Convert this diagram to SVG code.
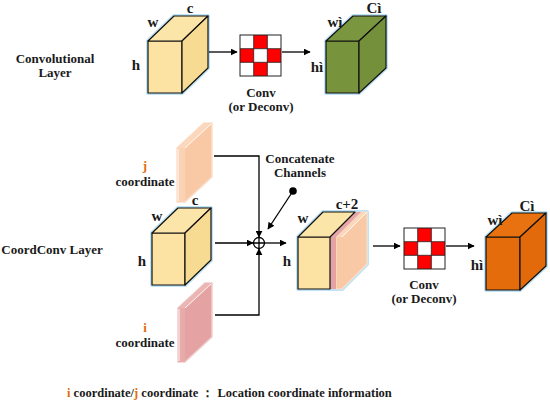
<svg xmlns="http://www.w3.org/2000/svg" width="550" height="407" viewBox="0 0 550 407">
<defs>
<marker id="ah" viewBox="0 0 10 10" refX="9" refY="5" markerWidth="7" markerHeight="7" markerUnits="userSpaceOnUse" orient="auto">
<path d="M0,0 L10,5 L0,10 z" fill="#000"/>
</marker>
<style>
text{font-family:"Liberation Serif","DejaVu Serif",serif;font-weight:bold;fill:#1a1a1a;text-anchor:middle}
.t{font-size:13px}
.d{font-size:15px}
.o{fill:#E36C0A}
.glow{fill:none;stroke:#BFE3F6;stroke-width:4;stroke-linejoin:round}
.edge{stroke:#111;stroke-width:1.2;stroke-linejoin:round}
.conn{fill:none;stroke:#000;stroke-width:1.3}
.red{fill:#FF0000}
.gl{fill:none;stroke:#222;stroke-width:0.8}
</style>
</defs>

<rect width="550" height="407" fill="#fff"/>

<g font-family="Liberation Serif, DejaVu Serif, serif">

<g id="label-conv-layer">
<text class="t" x="55" y="63">Convolutional</text>
<text class="t" x="55" y="77">Layer</text>
</g>

<g id="cube-input-top">
<path class="glow" d="M148,41 L174,16 L208,16 L208,68 L182,93 L148,93 Z"/>
<rect class="edge" x="148" y="41" width="34" height="52" fill="#FCE3A3"/>
<path class="edge" d="M148,41 L174,16 L208,16 L182,41 Z" fill="#FCE5A8"/>
<path class="edge" d="M182,41 L208,16 L208,68 L182,93 Z" fill="#F8DB92"/>
<text class="d" x="153" y="27">w</text>
<text class="d" x="190" y="13">c</text>
<text class="d" x="136" y="70">h</text>
</g>

<g id="kernel-top">
<rect x="240" y="35" width="41" height="41" fill="#fff"/>
<rect class="red" x="253.7" y="35" width="13.7" height="13.7"/>
<rect class="red" x="240" y="48.7" width="13.7" height="13.7"/>
<rect class="red" x="267.3" y="48.7" width="13.7" height="13.7"/>
<rect class="red" x="253.7" y="62.3" width="13.7" height="13.7"/>
<path class="gl" d="M253.7,35 V76 M267.3,35 V76 M240,48.7 H281 M240,62.3 H281"/>
<rect x="240" y="35" width="41" height="41" fill="none" stroke="#222" stroke-width="1"/>
<text class="t" x="261" y="97">Conv</text>
<text class="t" x="261" y="111">(or Deconv)</text>
</g>

<g id="cube-output-top">
<path class="glow" d="M326,41 L353,16 L386,16 L386,68 L359,93 L326,93 Z"/>
<rect class="edge" x="326" y="41" width="33" height="52" fill="#77933C"/>
<path class="edge" d="M326,41 L353,16 L386,16 L359,41 Z" fill="#7A963F"/>
<path class="edge" d="M359,41 L386,16 L386,68 L359,93 Z" fill="#74903A"/>
<text class="d" x="335" y="27">wì</text>
<text class="d" x="374" y="13">Cì</text>
<text class="d" x="317" y="72">hì</text>
</g>

<g id="slab-j">
<path d="M177,148 L204,123 L212,123 L212,177 L185,202 L177,202 Z" fill="#F9C9A6" stroke="#FBE0CC" stroke-width="1.5"/>
<path d="M177,148 L204,123 L212,123 L185,148 Z" fill="#FBD7BC"/>
<rect x="177" y="148" width="8" height="54" fill="#FAD2B4"/>
<path d="M178,149 V201 M185,148 L211,124" stroke="#fff" stroke-width="0.9" fill="none"/>
<text class="t o" x="145" y="170">j</text>
<text class="t" x="145" y="186">coordinate</text>
</g>

<g id="label-concat">
<text class="t" x="300" y="163">Concatenate</text>
<text class="t" x="300" y="177">Channels</text>
</g>

<g id="label-coordconv-layer">
<text class="t" x="52" y="254">CoordConv Layer</text>
</g>

<g id="cube-input-mid">
<path class="glow" d="M152,233 L178,208 L211,208 L211,260 L185,285 L152,285 Z"/>
<rect class="edge" x="152" y="233" width="33" height="52" fill="#FCE3A3"/>
<path class="edge" d="M152,233 L178,208 L211,208 L185,233 Z" fill="#FCE5A8"/>
<path class="edge" d="M185,233 L211,208 L211,260 L185,285 Z" fill="#F8DB92"/>
<text class="d" x="157" y="221">w</text>
<text class="d" x="195" y="205">c</text>
<text class="d" x="142" y="266">h</text>
</g>

<g id="slab-i">
<path d="M178,308 L205,283 L212,283 L212,337 L185,362 L178,362 Z" fill="#E4A3A2" stroke="#F1CFCF" stroke-width="1.5"/>
<path d="M178,308 L205,283 L212,283 L185,308 Z" fill="#EBB5B4"/>
<rect x="178" y="308" width="7" height="54" fill="#E7ABAA"/>
<path d="M179,309 V361 M185,308 L211,284" stroke="#fff" stroke-width="0.9" fill="none"/>
<text class="t o" x="145" y="332">i</text>
<text class="t" x="145" y="347">coordinate</text>
</g>

<g id="concat-op">
<circle cx="259" cy="243" r="5.5" fill="#fff" stroke="#000" stroke-width="1.3"/>
<path d="M253.5,243 H264.5 M259,237.5 V248.5" stroke="#000" stroke-width="1.3"/>
<circle cx="293" cy="191" r="3.8" fill="#000"/>
</g>

<g id="cube-concat">
<path class="glow" d="M298,237 L323,212 L367,212 L367,264 L342,289 L298,289 Z"/>
<path d="M336,237 L361,212 L367,212 L367,264 L342,289 L336,289 Z" fill="#F9C9A6" stroke="#FBE0CC" stroke-width="1.2"/>
<path d="M336,237 L361,212 L367,212 L342,237 Z" fill="#FBD7BC"/>
<path d="M342,237 L367,212" stroke="#fff" stroke-width="0.9"/>
<path d="M330,237 L355,212 L361,212 L336,237 Z" fill="#E6A7A6"/>
<rect x="330" y="237" width="6" height="52" fill="#E4A3A2"/>
<rect class="edge" x="298" y="237" width="32" height="52" fill="#FCE3A3"/>
<path class="edge" d="M298,237 L323,212 L355,212 L330,237 Z" fill="#FCE5A8"/>
<text class="d" x="303" y="223">w</text>
<text class="d" x="347" y="209">c+2</text>
<text class="d" x="287" y="266">h</text>
</g>

<g id="kernel-mid">
<rect x="404" y="228" width="41" height="41" fill="#fff"/>
<rect class="red" x="417.7" y="228" width="13.7" height="13.7"/>
<rect class="red" x="404" y="241.7" width="13.7" height="13.7"/>
<rect class="red" x="431.3" y="241.7" width="13.7" height="13.7"/>
<rect class="red" x="417.7" y="255.3" width="13.7" height="13.7"/>
<path class="gl" d="M417.7,228 V269 M431.3,228 V269 M404,241.7 H445 M404,255.3 H445"/>
<rect x="404" y="228" width="41" height="41" fill="none" stroke="#222" stroke-width="1"/>
<text class="t" x="424" y="289">Conv</text>
<text class="t" x="424" y="303">(or Deconv)</text>
</g>

<g id="cube-output-mid">
<path class="glow" d="M486,237 L512,213 L546,213 L546,266 L520,290 L486,290 Z"/>
<rect class="edge" x="486" y="237" width="34" height="53" fill="#E46C0A"/>
<path class="edge" d="M486,237 L512,213 L546,213 L520,237 Z" fill="#E8720F"/>
<path class="edge" d="M520,237 L546,213 L546,266 L520,290 Z" fill="#E26A0A"/>
<text class="d" x="495" y="225">wì</text>
<text class="d" x="527" y="211">Cì</text>
<text class="d" x="477" y="270">hì</text>
</g>

<g id="connectors">
<path class="conn" d="M209,52 H237" marker-end="url(#ah)"/>
<path class="conn" d="M282,52 H310" marker-end="url(#ah)"/>
<path class="conn" d="M214,156 H259 V237" marker-end="url(#ah)"/>
<path class="conn" d="M215,315 H259 V249" marker-end="url(#ah)"/>
<path class="conn" d="M215,243 H253" marker-end="url(#ah)"/>
<path class="conn" d="M264.5,243 H286" marker-end="url(#ah)"/>
<path class="conn" d="M293,191 L268,229" marker-end="url(#ah)"/>
<path class="conn" d="M373,246 H400" marker-end="url(#ah)"/>
<path class="conn" d="M446,246 H474" marker-end="url(#ah)"/>
</g>

<g id="legend">
<text x="67" y="397" style="text-anchor:start;font-size:12.5px"><tspan class="o">i</tspan> coordinate/<tspan class="o">j</tspan> coordinate ：  Location coordinate information</text>
</g>
</g>
</svg>
